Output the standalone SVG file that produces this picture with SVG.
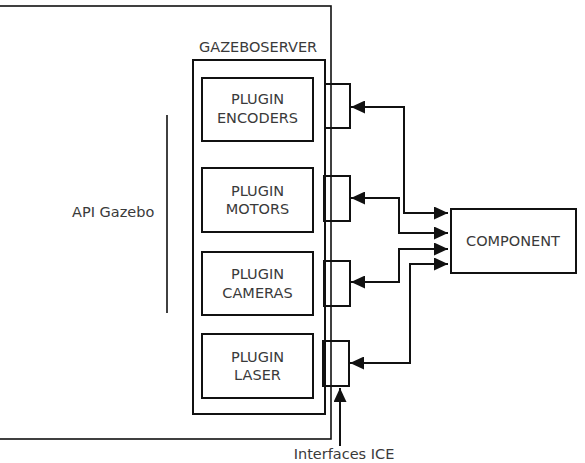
<svg xmlns="http://www.w3.org/2000/svg" width="585" height="463" viewBox="0 0 585 463">
<style>
.box{fill:none;stroke:#111;stroke-width:2}
.thin{fill:none;stroke:#111;stroke-width:1.6}
.t{font-family:"DejaVu Sans",Verdana,sans-serif;font-size:14.5px;fill:#3a3a3a}
.c{fill:none;stroke:#111;stroke-width:2}
</style>
<defs>
<marker id="ah" viewBox="0 0 14 13" refX="14" refY="6.5" markerWidth="14" markerHeight="13" markerUnits="userSpaceOnUse" orient="auto-start-reverse">
<path d="M0,0 L14,6.5 L0,13 z" fill="#111"/>
</marker>
</defs>
<rect id="outer" x="-5" y="6" width="336" height="433" class="thin"/>
<g id="api">
<line x1="167" y1="115" x2="167" y2="313" class="thin"/>
<text class="t" x="72" y="217">API Gazebo</text>
</g>
<g id="gazeboserver">
<rect x="193" y="60" width="132" height="354" class="box"/>
<text class="t" x="199" y="52">GAZEBOSERVER</text>
</g>
<g id="plugin-encoders">
<rect x="202" y="78" width="111" height="63" class="box"/>
<text class="t" x="257.5" y="104" text-anchor="middle">PLUGIN</text>
<text class="t" x="257.5" y="123" text-anchor="middle">ENCODERS</text>
</g>
<g id="plugin-motors">
<rect x="202" y="168" width="111" height="64" class="box"/>
<text class="t" x="257.5" y="196" text-anchor="middle">PLUGIN</text>
<text class="t" x="257.5" y="214" text-anchor="middle">MOTORS</text>
</g>
<g id="plugin-cameras">
<rect x="202" y="252" width="111" height="63" class="box"/>
<text class="t" x="257.5" y="279" text-anchor="middle">PLUGIN</text>
<text class="t" x="257.5" y="298" text-anchor="middle">CAMERAS</text>
</g>
<g id="plugin-laser">
<rect x="202" y="334" width="111" height="64" class="box"/>
<text class="t" x="257.5" y="362" text-anchor="middle">PLUGIN</text>
<text class="t" x="257.5" y="380" text-anchor="middle">LASER</text>
</g>
<g id="iface-encoders"><rect x="325" y="84" width="25" height="44" class="box"/></g>
<g id="iface-motors"><rect x="324" y="176" width="26" height="45" class="box"/></g>
<g id="iface-cameras"><rect x="324" y="261" width="26" height="45" class="box"/></g>
<g id="iface-laser"><rect x="323" y="341" width="26" height="45" class="box"/></g>
<g id="component">
<rect x="451" y="209" width="125" height="64" class="box"/>
<text class="t" x="513" y="246" text-anchor="middle">COMPONENT</text>
</g>
<g id="interfaces-ice">
<text class="t" x="344" y="459" text-anchor="middle">Interfaces ICE</text>
</g>
<g id="connectors">
<path class="c" d="M351,107 H404 V213 H448" marker-start="url(#ah)" marker-end="url(#ah)"/>
<path class="c" d="M351,198 H399 V233 H448" marker-start="url(#ah)" marker-end="url(#ah)"/>
<path class="c" d="M351,282 H399 V249 H448" marker-start="url(#ah)" marker-end="url(#ah)"/>
<path class="c" d="M350,363 H410 V264 H448" marker-start="url(#ah)" marker-end="url(#ah)"/>
<path class="c" d="M340,446 V388" marker-end="url(#ah)"/>
</g>
</svg>
